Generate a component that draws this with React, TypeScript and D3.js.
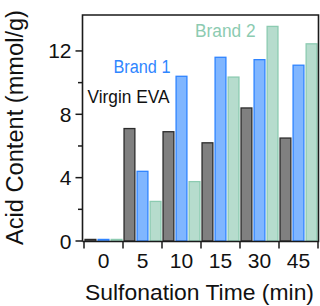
import * as d3 from 'd3';

const times = ['0', '5', '10', '15', '30', '45'];
const virginEva = [0.1, 7.1, 6.9, 6.2, 8.4, 6.5];
const brand1 = [0.1, 4.4, 10.4, 11.6, 11.45, 11.1];
const brand2 = [0.1, 2.5, 3.75, 10.35, 13.55, 12.45];
const majorTicks = [0, 4, 8, 12];
const minorTicks = [2, 6, 10];

const series = [
  { name: 'Virgin EVA', values: virginEva, fill: '#808080', stroke: '#2b2b2b' },
  { name: 'Brand 1', values: brand1, fill: '#80b6ff', stroke: '#2f84ff' },
  { name: 'Brand 2', values: brand2, fill: '#b6dccd', stroke: '#8ccbb1' },
];

const W = 320;
const H = 306;
const left = 82.5;
const right = 318.5;
const top = 15;
const bottom = 241.5;
const font = 'Liberation Sans, Arial, Helvetica, sans-serif';

export default function App() {
  const x = d3.scaleBand().domain(times).range([84, 318]);
  const inner = d3
    .scaleBand()
    .domain(series.map((s) => s.name))
    .range([0, x.bandwidth()])
    .paddingInner(0.17)
    .paddingOuter(0.08);
  const y = d3.scaleLinear().domain([0, 14.27]).range([241, 15]);

  const boundaries = times.map((t) => x(t) as number).concat([318]);

  return (
    <svg
      width={W}
      height={H}
      style={{ position: 'absolute', left: 0, top: 0 }}
      fontFamily={font}
    >
      <rect width={W} height={H} fill="#fff" />

      {/* bars */}
      {series.map((s) =>
        s.values.map((v, i) => (
          <rect
            key={s.name + i}
            x={(x(times[i]) as number) + (inner(s.name) as number)}
            y={y(v)}
            width={inner.bandwidth()}
            height={y(0) - y(v)}
            fill={s.fill}
            stroke={s.stroke}
            strokeWidth={1.3}
          />
        ))
      )}

      {/* frame */}
      <path
        d={`M${left},${bottom}V${top}H${right}V${bottom}H${left}`}
        fill="none"
        stroke="#1a1a1a"
        strokeWidth={1.6}
      />

      {/* y axis */}
      {majorTicks.map((t) => (
        <g key={'ymaj' + t}>
          <line x1={left - 7} x2={left} y1={y(t)} y2={y(t)} stroke="#1a1a1a" strokeWidth={1.5} />
          <text
            x={left - 11}
            y={y(t)}
            textAnchor="end"
            dominantBaseline="central"
            fontSize={21}
            fill="#111"
          >
            {t}
          </text>
        </g>
      ))}
      {minorTicks.map((t) => (
        <line key={'ymin' + t} x1={left - 4.5} x2={left} y1={y(t)} y2={y(t)} stroke="#1a1a1a" strokeWidth={1.5} />
      ))}

      {/* x axis */}
      {boundaries.map((b, i) => (
        <line key={'xt' + i} x1={b} x2={b} y1={bottom} y2={bottom + 7} stroke="#1a1a1a" strokeWidth={1.5} />
      ))}
      {times.map((t) => (
        <text
          key={'xl' + t}
          x={(x(t) as number) + x.bandwidth() / 2}
          y={268}
          textAnchor="middle"
          fontSize={21}
          fill="#111"
        >
          {t}
        </text>
      ))}

      {/* axis titles */}
      <text
        x={199.5}
        y={300}
        textAnchor="middle"
        fontSize={22}
        textLength={229}
        lengthAdjust="spacingAndGlyphs"
        fill="#111"
      >
        Sulfonation Time (min)
      </text>
      <text
        transform="translate(22.5,127.5) rotate(-90)"
        textAnchor="middle"
        fontSize={23}
        textLength={235}
        lengthAdjust="spacingAndGlyphs"
        fill="#111"
      >
        Acid Content (mmol/g)
      </text>

      {/* series labels */}
      <text x={87.5} y={103} fontSize={18} textLength={82} lengthAdjust="spacingAndGlyphs" fill="#111">
        Virgin EVA
      </text>
      <text x={113.5} y={72.5} fontSize={18} textLength={57} lengthAdjust="spacingAndGlyphs" fill="#2f86ff">
        Brand 1
      </text>
      <text x={195} y={36.5} fontSize={17.5} textLength={60.5} lengthAdjust="spacingAndGlyphs" fill="#8ccbb1">
        Brand 2
      </text>
    </svg>
  );
}
